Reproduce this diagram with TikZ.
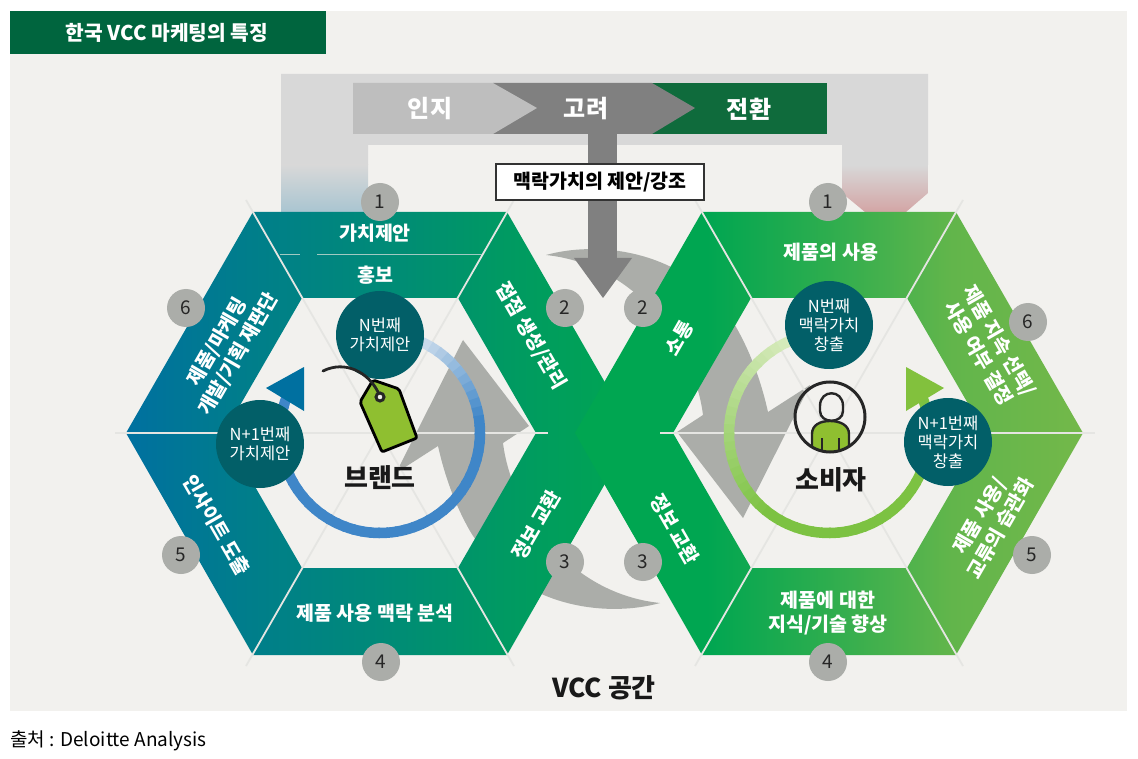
\documentclass[tikz,border=0pt]{standalone}
\usepackage{fontspec}
\setmainfont{Noto Sans CJK KR}
\usetikzlibrary{shapes.geometric}
\definecolor{panelbg}{HTML}{F2F1EE}
\definecolor{titlegreen}{HTML}{00653E}
\definecolor{framegray}{HTML}{D8D8D8}
\definecolor{legblue}{HTML}{A9C5D1}
\definecolor{legpink}{HTML}{D3A5A5}
\definecolor{swirlgray}{HTML}{ABADA9}
\definecolor{stepgray}{HTML}{808080}
\definecolor{steplight}{HTML}{BEBEBE}
\definecolor{stepgreen}{HTML}{0F6B3C}
\definecolor{spokegray}{HTML}{E5E5E2}
\definecolor{discteal}{HTML}{025F68}
\definecolor{tieblue}{HTML}{0070A0}
\definecolor{tagbrand}{HTML}{008A78}
\definecolor{xgreen}{HTML}{00A651}
\definecolor{userend}{HTML}{73B84A}
\definecolor{ringpale}{HTML}{D5E2EE}
\definecolor{ringblue}{HTML}{3F86C8}
\definecolor{ringlime}{HTML}{DCEDC4}
\definecolor{ringgreen}{HTML}{7CC242}
\definecolor{taggreen}{HTML}{8FBF30}
% bounding box of a shaded path falls on 25bp to 75bp
\pgfdeclarehorizontalshading{brandshade}{100bp}{color(0bp)=(tieblue); color(25bp)=(tieblue); color(35bp)=(tieblue!55!tagbrand); color(50bp)=(tagbrand); color(62bp)=(tagbrand!45!xgreen); color(72bp)=(tagbrand!12!xgreen); color(75bp)=(xgreen); color(100bp)=(xgreen)}
\pgfdeclarehorizontalshading{usershade}{100bp}{color(0bp)=(xgreen); color(38bp)=(xgreen); color(50bp)=(xgreen!60!userend); color(62bp)=(xgreen!15!userend); color(75bp)=(userend); color(100bp)=(userend)}
\tikzset{
    badge/.style={circle, fill=swirlgray, minimum size=38pt, inner sep=0pt, text=black!85,
        font=\fontsize{19}{21}\selectfont},
    disc/.style={circle, fill=discteal, minimum size=88pt, inner sep=0pt, text=white, align=center,
        font=\fontsize{16.5}{19}\selectfont},
    bandlabel/.style={text=white, align=center, inner sep=0pt, font=\bfseries\fontsize{19.5}{24}\selectfont},
    steplabel/.style={text=white, inner sep=0pt, font=\bfseries\fontsize{24}{26}\selectfont},
    biglabel/.style={text=black!90, inner sep=0pt, font=\bfseries\fontsize{26}{28}\selectfont},
    spoke/.style={spokegray, line width=1.8pt},
}
\begin{document}
\begin{tikzpicture}[x=1pt, y=-1pt]
    % Define dimensions
    \def\brandx{380}
    \def\userx{829}
    \def\midy{433}
    \def\ringr{100pt}
    \useasboundingbox (0,0) rectangle (1138,759);
    \fill[white] (0,0) rectangle (1138,759);
    % Panel and title
    \fill[panelbg] (10,11) rectangle (1127,711);
    \fill[titlegreen] (10,11) rectangle (326,54);
    \node[text=white, inner sep=0pt, font=\bfseries\fontsize{20.3}{22}\selectfont] (title) at (167,33) {한국 VCC 마케팅의 특징};
    \node[anchor=west, inner sep=0pt, font=\fontsize{19}{22}\selectfont] (source) at (10,741) {출처 : Deloitte Analysis};
    % Frame behind the funnel
    \fill[framegray] (281,74) -- (928,74) -- (928,165) -- (842,165) -- (842,145) -- (368,145) -- (368,165) -- (281,165) -- cycle;
    \shade[top color=framegray, bottom color=legblue] (281,165) rectangle (368,212);
    \shade[top color=framegray, bottom color=legpink] (842,165) -- (928,165) -- (928,193) -- (906,212) -- (865,212) -- (842,193) -- cycle;
    % Swirl arrows
    \foreach \turn in {0,180}
        \fill[swirlgray, rotate around={\turn:(603,429)}] (546,255)
            .. controls (600,240) and (690,250) .. (736,327)
            .. controls (752,355) and (762,385) .. (768,412)
            -- (810,385) -- (743,518) -- (677,432) -- (703,415)
            .. controls (695,350) and (640,265) .. (546,255) -- cycle;
    % Bands of the brand hexagon
    \shade[shading=brandshade]
        (253,212) -- (507,212) -- (458,298) -- (302,298) -- cycle
        (507,212) -- (458,298) -- (536,433) -- (634,433) -- cycle
        (634,433) -- (536,433) -- (458,568) -- (507,655) -- cycle
        (507,655) -- (458,568) -- (302,568) -- (253,655) -- cycle
        (253,655) -- (302,568) -- (224,433) -- (126,433) -- cycle
        (126,433) -- (224,433) -- (302,298) -- (253,212) -- cycle;
    % Bands of the user hexagon
    \shade[shading=usershade]
        (702,212) -- (956,212) -- (907,298) -- (751,298) -- cycle
        (956,212) -- (907,298) -- (985,433) -- (1083,433) -- cycle
        (1083,433) -- (985,433) -- (907,568) -- (956,655) -- cycle
        (956,655) -- (907,568) -- (751,568) -- (702,655) -- cycle
        (702,655) -- (751,568) -- (673,433) -- (575,433) -- cycle
        (575,433) -- (673,433) -- (751,298) -- (702,212) -- cycle;
    % Spokes
    \foreach \x in {\brandx,\userx}
    {
        \draw[spoke] (\x-134,200) -- (\x+134,666);
        \draw[spoke] (\x+134,200) -- (\x-134,666);
    }
    \draw[spoke] (115,\midy) -- (548,\midy);
    \draw[spoke] (660,\midy) -- (1095,\midy);
    \draw[spokegray!70!tagbrand, line width=1pt] (280,255) -- (300,255) (317,255) -- (482,255);
    % Rings
    \foreach \a in {70,65,...,-200}
    {
        \pgfmathsetmacro\share{min(100,(70-\a)*1.7)}
        \draw[ringblue!\share!ringpale, line width=10.5pt] (\brandx,\midy) ++(\a:\ringr) arc[start angle=\a, end angle=\a-6, radius=\ringr];
    }
    \foreach \a in {105,110,...,380}
    {
        \pgfmathsetmacro\share{min(100,(\a-105)*0.8)}
        \draw[ringgreen!\share!ringlime, line width=10.5pt] (\userx,\midy) ++(\a:\ringr) arc[start angle=\a, end angle=\a+6, radius=\ringr];
    }
    \fill[tieblue] (266,388) -- (304,367) -- (304,411) -- cycle;
    \fill[ringgreen!70!taggreen] (906,367) -- (944,388) -- (906,411) -- cycle;
    % Funnel steps
    \fill[stepgreen] (652,83) rectangle (827,134);
    \fill[stepgray] (493,83) -- (652,83) -- (695,108) -- (652,134) -- (493,134) -- cycle;
    \fill[steplight] (353,83) -- (493,83) -- (537,108) -- (493,134) -- (353,134) -- cycle;
    \fill[stepgray] (588,134) rectangle (617,258);
    \fill[stepgray] (574,258) -- (632,258) -- (603,298) -- cycle;
    \node[steplabel] (aware) at (430,109) {인지};
    \node[steplabel] (weigh) at (586,109) {고려};
    \node[steplabel] (convert) at (749,109) {전환};
    \node[draw=black!80, fill=white, line width=1.1pt, minimum width=208pt, minimum height=36pt, inner sep=0pt,
        font=\bfseries\fontsize{19.5}{21}\selectfont] (offer) at (600,182) {맥락가치의 제안/강조};
    % Band labels of the brand side
    \node[bandlabel] (bvalue) at (375,233) {가치제안};
    \node[bandlabel] (bpromo) at (375,275) {홍보};
    \node[bandlabel, rotate=-60] (btouch) at (531,336) {접점 생성/관리};
    \node[bandlabel, rotate=60] (bswap) at (536,525) {정보 교환};
    \node[bandlabel] (bcontext) at (375,613) {제품 사용 맥락 분석};
    \node[bandlabel, rotate=-60] (binsight) at (217,525) {인사이트 도출};
    \node[bandlabel, rotate=60] (bplan) at (228,348) {제품/마케팅\\개발/기획 재판단};
    % Band labels of the user side
    \node[bandlabel] (uuse) at (831,252) {제품의 사용};
    \node[bandlabel, rotate=60] (utalk) at (679,338) {소통};
    \node[bandlabel, rotate=-60] (uswap) at (675,529) {정보 교환};
    \node[bandlabel] (uskill) at (828,613) {제품에 대한\\지식/기술 향상};
    \node[bandlabel, rotate=60] (uhabit) at (990,522) {제품 사용/\\교류의 습관화};
    \node[bandlabel, rotate=-60] (uchoice) at (989,347) {제품 지속 선택/\\사용 여부 결정};
    % Number badges
    \foreach \name/\x/\y/\num in {b1/380/202/1, b2/565/308/2, b3/565/562/3, b4/381/662/4, b5/181/555/5, b6/186/308/6,
                                  u1/828/202/1, u2/643/308/2, u3/643/562/3, u4/828/662/4, u5/1032/555/5, u6/1028/322/6}
        \node[badge] (\name) at (\x,\y) {\num};
    % Value discs
    \node[disc] (bnth) at (380,335) {N번째\\가치제안};
    \node[disc] (bnext) at (260,444) {N+1번째\\가치제안};
    \node[disc] (unth) at (829,325) {N번째\\맥락가치\\창출};
    \node[disc] (unext) at (948,442) {N+1번째\\맥락가치\\창출};
    % Price tag
    \draw[fill=taggreen, line width=2.8pt, line join=round, rounded corners=2pt] (373,380) -- (399,389) -- (417,438) -- (382,452) -- (360,402) -- cycle;
    \draw[black!85, line width=3pt, fill=panelbg] (380,397) circle (4pt);
    \draw[black!85, line width=2.8pt, line cap=round] (323,371) .. controls (345,360) and (368,372) .. (378,392);
    % Person icon
    \begin{scope}
        \clip (830,417) circle (35pt);
        \draw[black!85, line width=2.4pt, fill=taggreen] (812,456) -- (812,434) .. controls (812,425) and (820,421) .. (830,421)
            .. controls (840,421) and (849,425) .. (849,434) -- (849,456) -- cycle;
        \draw[black!85, line width=1.8pt] (822,438) -- (822,456) (839,438) -- (839,456);
    \end{scope}
    \draw[black!85, line width=2.4pt] (820,406) .. controls (820,389) and (843,389) .. (843,406)
        -- (843,411) .. controls (843,424) and (820,424) .. (820,411) -- cycle;
    \draw[black!85, line width=3pt] (830,417) circle (35pt);
    % Big labels
    \node[biglabel] (brand) at (380,478) {브랜드};
    \node[biglabel] (consumer) at (831,480) {소비자};
    \node[biglabel] (space) at (604,688) {VCC 공간};
\end{tikzpicture}
\end{document}
